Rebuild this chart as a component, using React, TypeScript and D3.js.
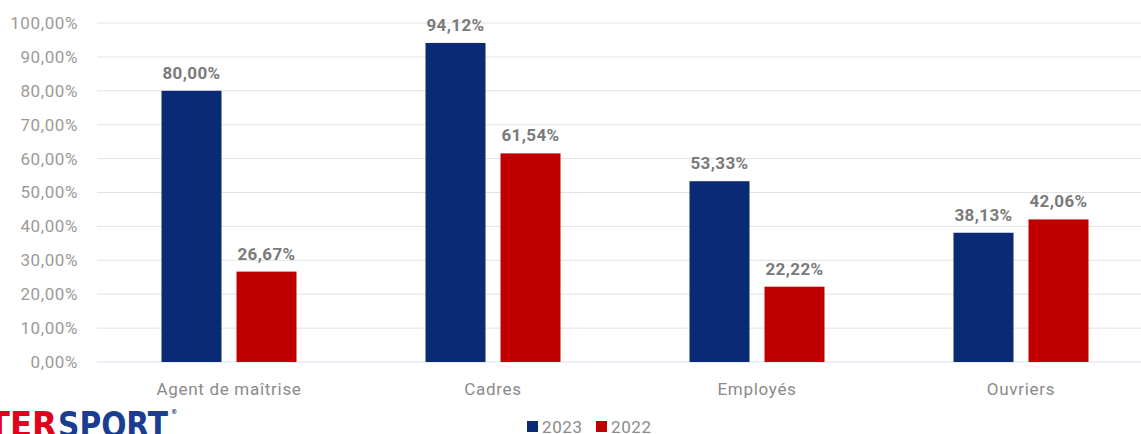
import React from "react";
import * as d3 from "d3";

const categories = ["Agent de maîtrise", "Cadres", "Employés", "Ouvriers"];
const series2023 = [80.0, 94.12, 53.33, 38.13];
const series2022 = [26.67, 61.54, 22.22, 42.06];
const yTicks = [0, 10, 20, 30, 40, 50, 60, 70, 80, 90, 100];
const seriesNames = ["2023", "2022"];

const W = 1141;
const H = 434;
const colors = ["#0b2a75", "#c00000"];
const fmt = (v: number) => v.toFixed(2).replace(".", ",") + "%";
const FONT = "Roboto, 'DejaVu Sans', sans-serif";

export default function App() {
  const left = 97;
  const x = d3.scaleBand<string>().domain(categories).range([left, left + 264 * 4]).paddingInner(0).paddingOuter(0);
  const y = d3.scaleLinear().domain([0, 100]).range([362, 23]);
  const inner = d3.scaleBand<string>().domain(seriesNames).range([-67.5, 67.5]).paddingInner(0.2);
  const data = [series2023, series2022];

  return (
    <svg width={W} height={H} style={{ position: "absolute", left: 0, top: 0, background: "#fff" }} fontFamily={FONT}>
      {yTicks.map((t) => (
        <g key={t}>
          <line x1={left} x2={W} y1={y(t)} y2={y(t)} stroke={t === 0 ? "#d6e0f2" : "#e3e3e3"} strokeWidth={1} />
          <text x={78} y={y(t)} dy="0.35em" textAnchor="end" fontSize={17} letterSpacing={0.6} fill="#9a9a9a">
            {fmt(t)}
          </text>
        </g>
      ))}
      {categories.map((c, i) => {
        const cx = (x(c) as number) + x.bandwidth() / 2;
        return (
          <g key={c}>
            {seriesNames.map((s, j) => {
              const v = data[j][i];
              const bx = cx + (inner(s) as number);
              return (
                <g key={s}>
                  <rect x={bx} y={y(v)} width={inner.bandwidth()} height={y(0) - y(v)} fill={colors[j]} />
                  <text x={bx + inner.bandwidth() / 2} y={y(v) - 12} textAnchor="middle" fontSize={17} letterSpacing={0.4} fontWeight="bold" fill="#7a7a7a">
                    {fmt(v)}
                  </text>
                </g>
              );
            })}
            <text x={cx} y={389} dy="0.35em" textAnchor="middle" fontSize={17} letterSpacing={0.7} fill="#8a8a8a">
              {c}
            </text>
          </g>
        );
      })}
      {seriesNames.map((s, j) => {
        const lx = 527 + j * 69;
        return (
          <g key={s}>
            <rect x={lx} y={421} width={11} height={11} fill={colors[j]} />
            <text x={lx + 15} y={427} dy="0.35em" fontSize={17} letterSpacing={0.6} fill="#8a8a8a">
              {s}
            </text>
          </g>
        );
      })}
      <g fontFamily="'DejaVu Sans Condensed', 'DejaVu Sans', sans-serif" fontWeight="bold" fontSize={36}>
        <text x={57} y={437} textAnchor="end" fill="#e2001a">INTER</text>
        <text x={58} y={437} fill="#1b3d8f" textLength={110} lengthAdjust="spacingAndGlyphs">SPORT</text>
        <text x={171} y={414} fontSize={7} fill="#1b3d8f">®</text>
      </g>
    </svg>
  );
}
